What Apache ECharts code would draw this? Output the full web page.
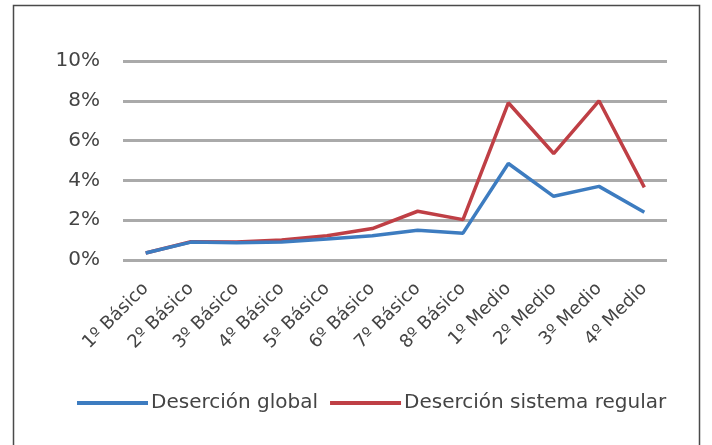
<!DOCTYPE html>
<html>
<head>
<meta charset="utf-8">
<script src="https://cdn.jsdelivr.net/npm/echarts@6/dist/echarts.min.js"></script>
<style>
  html, body { margin: 0; padding: 0; background: #fff; }
  #chart { width: 712px; height: 445px; }
</style>
</head>
<body>
<div id="chart"></div>
<script>
// School levels on the x axis
const levels = ['1º Básico', '2º Básico', '3º Básico', '4º Básico', '5º Básico', '6º Básico',
                '7º Básico', '8º Básico', '1º Medio', '2º Medio', '3º Medio', '4º Medio'];
// Dropout rates (%)
const globalRate  = [0.35, 0.9, 0.87, 0.9, 1.05, 1.22, 1.5, 1.35, 4.85, 3.2, 3.7, 2.4];
const regularRate = [0.35, 0.92, 0.9, 1.0, 1.22, 1.58, 2.45, 2.03, 7.9, 5.35, 8.0, 3.65];
const seriesNames = ['Deserción global', 'Deserción sistema regular'];

const chart = echarts.init(document.getElementById('chart'), null, { renderer: 'canvas' });
const font = 'DejaVu Sans, Verdana, sans-serif';

chart.setOption({
  animation: false,
  backgroundColor: '#fff',
  graphic: [{
    type: 'rect',
    shape: { x: 13.5, y: 5.5, width: 686, height: 460 },
    style: { fill: 'none', stroke: '#4a4a4a', lineWidth: 1.5 },
    silent: true
  }],
  grid: { left: 123, right: 45, top: 61, bottom: 185, containLabel: false },
  legend: {
    data: seriesNames,
    top: 388,
    left: 72,
    icon: 'rect',
    itemWidth: 71,
    itemHeight: 4,
    itemGap: 12,
    textStyle: { fontFamily: font, fontSize: 20, color: '#444', padding: [0, 0, 0, -2] }
  },
  xAxis: {
    type: 'category',
    data: levels,
    boundaryGap: true,
    axisLine: { show: false },
    axisTick: { show: false },
    axisLabel: {
      rotate: 45,
      interval: 0,
      margin: 26,
      fontFamily: font,
      fontSize: 18,
      color: '#444'
    }
  },
  yAxis: {
    type: 'value',
    min: 0,
    max: 10,
    interval: 2,
    axisLine: { show: false },
    axisTick: { show: false },
    splitLine: { lineStyle: { color: '#aaaaaa', width: 3 } },
    axisLabel: {
      formatter: '{value}%',
      margin: 23,
      fontFamily: font,
      fontSize: 20,
      color: '#444'
    }
  },
  series: [
    {
      name: seriesNames[0],
      type: 'line',
      data: globalRate,
      symbol: 'none',
      lineStyle: { width: 3.5, color: '#3d7cc0' },
      itemStyle: { color: '#3d7cc0' },
      z: 3
    },
    {
      name: seriesNames[1],
      type: 'line',
      data: regularRate,
      symbol: 'none',
      lineStyle: { width: 3.5, color: '#bf3f45' },
      itemStyle: { color: '#bf3f45' },
      z: 2
    }
  ]
});
</script>
</body>
</html>
